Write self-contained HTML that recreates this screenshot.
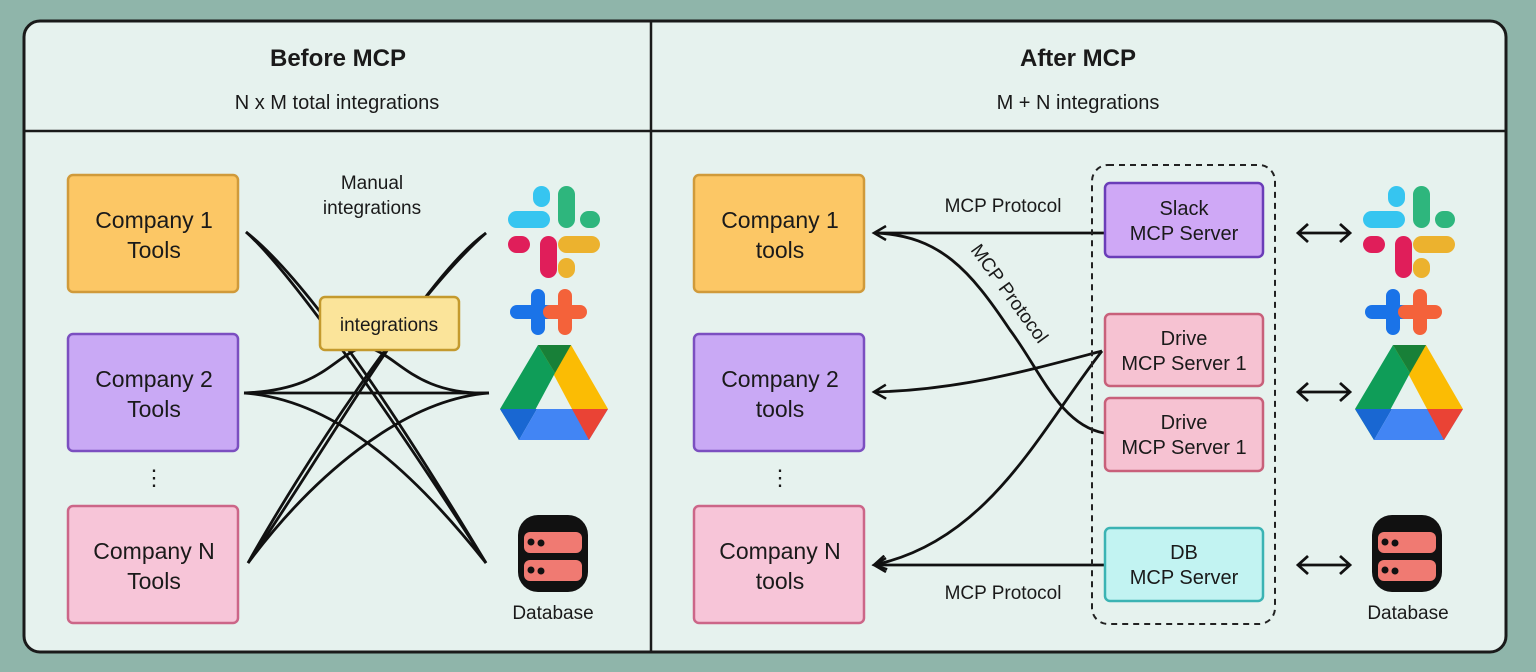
<!DOCTYPE html>
<html><head><meta charset="utf-8"><style>
html,body{margin:0;padding:0;background:#8fb5aa;}
svg{display:block;font-family:"Liberation Sans",sans-serif;}
</style></head><body>
<svg width="1536" height="672" viewBox="0 0 1536 672" xmlns="http://www.w3.org/2000/svg">
<defs>
<marker id="ah" markerWidth="16" markerHeight="16" refX="13" refY="8" orient="auto" markerUnits="userSpaceOnUse">
<path d="M1,1 L13,8 L1,15" fill="none" stroke="#111" stroke-width="2.5"/>
</marker>
<g id="slack">
<rect x="508" y="211" width="42" height="17" rx="8.5" fill="#36c5f0"/>
<rect x="533" y="186" width="17" height="21" rx="8.5" fill="#36c5f0"/>
<rect x="558" y="186" width="17" height="42" rx="8.5" fill="#2eb67d"/>
<rect x="580" y="211" width="20" height="17" rx="8.5" fill="#2eb67d"/>
<rect x="540" y="236" width="17" height="42" rx="8.5" fill="#e01e5a"/>
<rect x="508" y="236" width="22" height="17" rx="8.5" fill="#e01e5a"/>
<rect x="558" y="236" width="42" height="17" rx="8.5" fill="#ecb22e"/>
<rect x="558" y="258" width="17" height="20" rx="8.5" fill="#ecb22e"/>
</g>
<g id="plus">
<rect x="531" y="289" width="14" height="46" rx="7" fill="#1a73e8"/>
<rect x="510" y="305" width="46" height="14" rx="7" fill="#1a73e8"/>
<rect x="558" y="289" width="14" height="46" rx="7" fill="#f4623a"/>
<rect x="543" y="305" width="44" height="14" rx="7" fill="#f4623a"/>
</g>
<g id="drive">
<polygon points="538,345 571,345 608,409 572,409" fill="#fbbc04"/>
<polygon points="538,345 571,345 555,373" fill="#188038"/>
<polygon points="538,345 555,373 519,440 500,409" fill="#0f9d58"/>
<polygon points="500,409 537,409 519,440" fill="#1967d2"/>
<polygon points="537,409 608,409 589,440 519,440" fill="#4285f4"/>
<polygon points="572,409 608,409 589,440" fill="#ea4335"/>
</g>
<g id="db">
<rect x="518" y="515" width="70" height="77" rx="20" fill="#111"/>
<rect x="524" y="532" width="58" height="21" rx="6" fill="#f07a72"/>
<rect x="524" y="560" width="58" height="21" rx="6" fill="#f07a72"/>
<circle cx="531" cy="542" r="3.5" fill="#111"/><circle cx="541" cy="543" r="3.5" fill="#111"/>
<circle cx="531" cy="570" r="3.5" fill="#111"/><circle cx="541" cy="571" r="3.5" fill="#111"/>
</g>
</defs>
<rect x="0" y="0" width="1536" height="672" fill="#8fb5aa"/>
<rect x="24" y="21" width="1482" height="631" rx="16" fill="#e6f2ee" stroke="#1a1a1a" stroke-width="3"/>
<line x1="651" y1="21" x2="651" y2="652" stroke="#1a1a1a" stroke-width="2.5"/>
<line x1="24" y1="131" x2="1506" y2="131" stroke="#1a1a1a" stroke-width="2.5"/>

<g fill="#1a1a1a" text-anchor="middle">
<text x="338" y="66" font-size="24" font-weight="bold">Before MCP</text>
<text x="337" y="109" font-size="20">N x M total integrations</text>
<text x="1078" y="66" font-size="24" font-weight="bold">After MCP</text>
<text x="1078" y="109" font-size="20">M + N integrations</text>
</g>

<!-- left connectors -->
<g fill="none" stroke="#111" stroke-width="2.8">
<path d="M246,232 C300,280 420,460 486,563"/>
<path d="M246,232 C320,290 430,470 486,563"/>
<path d="M486,233 C420,280 320,460 248,563"/>
<path d="M486,233 C410,300 300,470 248,563"/>
<path d="M244,393 L489,393"/>
<path d="M244,393 C320,390 330,360 360,348"/>
<path d="M244,393 C340,400 420,480 486,563"/>
<path d="M489,393 C420,395 400,360 375,350"/>
<path d="M489,393 C400,400 310,480 248,563"/>
</g>

<!-- left boxes -->
<rect x="68" y="175" width="170" height="117" rx="5" fill="#fcc765" stroke="#d09a3a" stroke-width="2.5"/>
<rect x="68" y="334" width="170" height="117" rx="5" fill="#c9a9f5" stroke="#7b4fc0" stroke-width="2.5"/>
<rect x="68" y="506" width="170" height="117" rx="5" fill="#f7c5d8" stroke="#cc6688" stroke-width="2.5"/>
<rect x="694" y="175" width="170" height="117" rx="5" fill="#fcc765" stroke="#d09a3a" stroke-width="2.5"/>
<rect x="694" y="334" width="170" height="117" rx="5" fill="#c9a9f5" stroke="#7b4fc0" stroke-width="2.5"/>
<rect x="694" y="506" width="170" height="117" rx="5" fill="#f7c5d8" stroke="#cc6688" stroke-width="2.5"/>
<rect x="320" y="297" width="139" height="53" rx="5" fill="#fbe49a" stroke="#c49a2e" stroke-width="2.5"/>
<g fill="#1a1a1a" text-anchor="middle" font-size="23">
<text x="154" y="228">Company 1</text><text x="154" y="258">Tools</text>
<text x="154" y="387">Company 2</text><text x="154" y="417">Tools</text>
<text x="154" y="559">Company N</text><text x="154" y="589">Tools</text>
<text x="780" y="228">Company 1</text><text x="780" y="258">tools</text>
<text x="780" y="387">Company 2</text><text x="780" y="417">tools</text>
<text x="780" y="559">Company N</text><text x="780" y="589">tools</text>
</g>
<g fill="#1a1a1a" text-anchor="middle" font-size="19">
<text x="389" y="331">integrations</text>
<text x="372" y="189">Manual</text><text x="372" y="214">integrations</text>
<text x="553" y="619">Database</text>
<text x="1408" y="619">Database</text>
<text x="1003" y="212">MCP Protocol</text>
<text x="1003" y="599">MCP Protocol</text>
<text x="0" y="0" transform="translate(970,250) rotate(54)" text-anchor="start">MCP Protocol</text>
</g>
<g fill="#1a1a1a" font-size="22" text-anchor="middle">
<text x="154" y="485">⋮</text><text x="780" y="485">⋮</text>
</g>

<!-- icons -->
<use href="#slack"/><use href="#plus"/><use href="#drive"/><use href="#db"/>
<g transform="translate(855,0)"><use href="#slack"/><use href="#plus"/><use href="#drive"/></g>
<g transform="translate(854,0)"><use href="#db"/></g>

<!-- right connectors -->
<g fill="none" stroke="#111" stroke-width="2.8">
<path d="M1104,233 L874,233" marker-end="url(#ah)"/>
<path d="M1104,433 C1060,425 1040,370 1010,330 C970,270 940,236 876,233"/>
<path d="M1102,351 C1030,370 960,390 874,392" marker-end="url(#ah)"/>
<path d="M1102,351 C1040,430 990,540 874,565" marker-end="url(#ah)"/>
<path d="M1104,565 L874,565" marker-end="url(#ah)"/>
</g>
<rect x="1092" y="165" width="183" height="459" rx="16" fill="none" stroke="#222" stroke-width="2" stroke-dasharray="6,5"/>
<rect x="1105" y="183" width="158" height="74" rx="5" fill="#cfa8f6" stroke="#6a3db8" stroke-width="2.5"/>
<rect x="1105" y="314" width="158" height="72" rx="5" fill="#f6c2d2" stroke="#c8607a" stroke-width="2.5"/>
<rect x="1105" y="398" width="158" height="73" rx="5" fill="#f6c2d2" stroke="#c8607a" stroke-width="2.5"/>
<rect x="1105" y="528" width="158" height="73" rx="5" fill="#c2f3f2" stroke="#3bb3b3" stroke-width="2.5"/>
<g fill="#1a1a1a" text-anchor="middle" font-size="20">
<text x="1184" y="215">Slack</text><text x="1184" y="240">MCP Server</text>
<text x="1184" y="345">Drive</text><text x="1184" y="370">MCP Server 1</text>
<text x="1184" y="429">Drive</text><text x="1184" y="454">MCP Server 1</text>
<text x="1184" y="559">DB</text><text x="1184" y="584">MCP Server</text>
</g>
<g fill="none" stroke="#111" stroke-width="2.8">
<path d="M1298,233 H1350 M1308,224 L1298,233 L1308,242 M1340,224 L1350,233 L1340,242"/>
<path d="M1298,392 H1350 M1308,383 L1298,392 L1308,401 M1340,383 L1350,392 L1340,401"/>
<path d="M1298,565 H1350 M1308,556 L1298,565 L1308,574 M1340,556 L1350,565 L1340,574"/>
</g>
</svg>
</body></html>
